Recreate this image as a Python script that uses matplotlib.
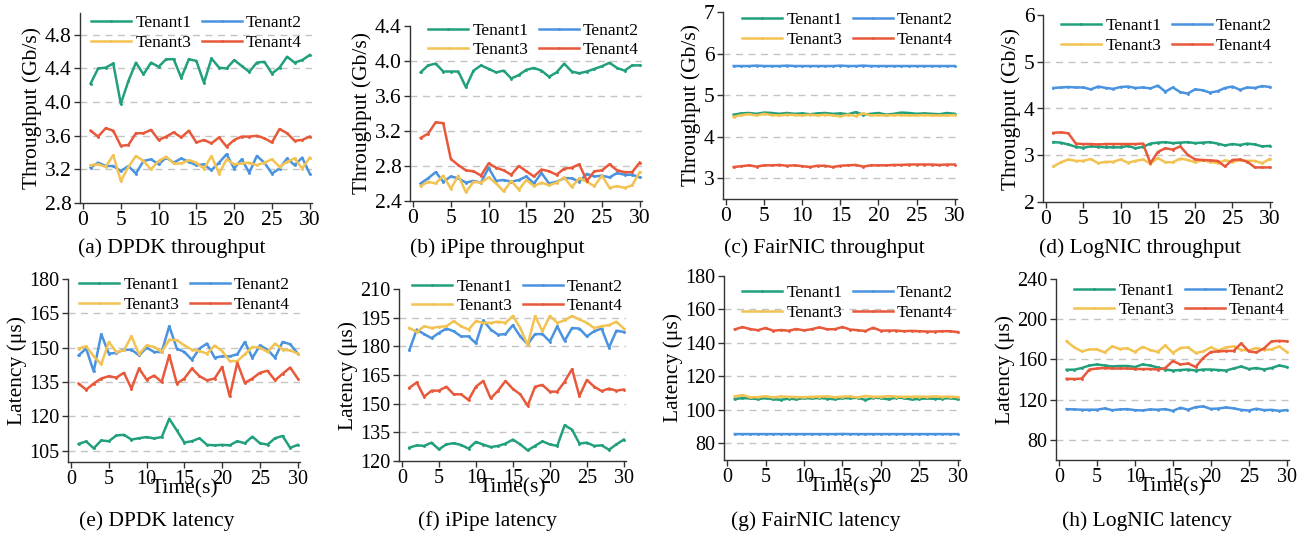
import matplotlib
matplotlib.use('Agg')
import matplotlib.pyplot as plt

plt.rcParams['font.family'] = ['Liberation Serif', 'DejaVu Serif']

time = list(range(1, 31))
tenants = ['Tenant1', 'Tenant2', 'Tenant3', 'Tenant4']
colors = ['#22a07e', '#4a93e0', '#f2c352', '#e8593c']

# (a) DPDK throughput
dpdk_tp_t1 = [4.22, 4.40, 4.41, 4.46, 3.98, 4.25, 4.47, 4.33, 4.47, 4.42, 4.51, 4.51, 4.29, 4.51, 4.49,
              4.23, 4.52, 4.41, 4.40, 4.50, 4.43, 4.36, 4.47, 4.48, 4.34, 4.41, 4.54, 4.47, 4.50, 4.56]
dpdk_tp_t2 = [3.22, 3.28, 3.24, 3.24, 3.18, 3.24, 3.15, 3.30, 3.32, 3.26, 3.34, 3.28, 3.33, 3.29, 3.25,
              3.26, 3.19, 3.28, 3.38, 3.21, 3.32, 3.16, 3.36, 3.28, 3.15, 3.21, 3.33, 3.25, 3.34, 3.15]
dpdk_tp_t3 = [3.25, 3.26, 3.23, 3.37, 3.06, 3.23, 3.36, 3.30, 3.20, 3.30, 3.35, 3.27, 3.27, 3.31, 3.28,
              3.21, 3.36, 3.15, 3.32, 3.26, 3.27, 3.28, 3.25, 3.28, 3.32, 3.23, 3.29, 3.33, 3.21, 3.34]
dpdk_tp_t4 = [3.66, 3.59, 3.69, 3.66, 3.48, 3.49, 3.63, 3.63, 3.67, 3.55, 3.59, 3.64, 3.58, 3.66, 3.52,
              3.55, 3.51, 3.58, 3.47, 3.55, 3.59, 3.59, 3.60, 3.57, 3.52, 3.68, 3.63, 3.54, 3.55, 3.59]

# (b) iPipe throughput
ipipe_tp_t1 = [3.87, 3.95, 3.97, 3.88, 3.88, 3.88, 3.70, 3.89, 3.95, 3.91, 3.87, 3.89, 3.80, 3.84, 3.90,
               3.92, 3.89, 3.82, 3.87, 3.97, 3.88, 3.86, 3.88, 3.91, 3.94, 3.98, 3.92, 3.89, 3.95, 3.95]
ipipe_tp_t2 = [2.60, 2.66, 2.73, 2.62, 2.68, 2.66, 2.61, 2.63, 2.61, 2.78, 2.63, 2.64, 2.62, 2.64, 2.68,
               2.60, 2.72, 2.60, 2.62, 2.66, 2.66, 2.62, 2.71, 2.68, 2.69, 2.67, 2.72, 2.70, 2.70, 2.67]
ipipe_tp_t3 = [2.57, 2.62, 2.60, 2.69, 2.54, 2.69, 2.50, 2.62, 2.61, 2.67, 2.60, 2.51, 2.63, 2.53, 2.64,
               2.57, 2.61, 2.58, 2.61, 2.67, 2.56, 2.66, 2.62, 2.57, 2.69, 2.55, 2.57, 2.55, 2.58, 2.73]
ipipe_tp_t4 = [3.12, 3.17, 3.30, 3.29, 2.88, 2.81, 2.75, 2.74, 2.69, 2.83, 2.78, 2.75, 2.70, 2.80, 2.74,
               2.68, 2.76, 2.74, 2.70, 2.77, 2.78, 2.82, 2.63, 2.74, 2.75, 2.82, 2.75, 2.73, 2.73, 2.84]

# (c) FairNIC throughput
fair_tp_t1 = [4.53, 4.56, 4.57, 4.55, 4.58, 4.57, 4.55, 4.57, 4.55, 4.56, 4.54, 4.56, 4.57, 4.55, 4.56,
              4.54, 4.59, 4.53, 4.55, 4.57, 4.53, 4.55, 4.58, 4.57, 4.55, 4.56, 4.55, 4.54, 4.57, 4.55]
fair_tp_t2 = [5.70, 5.70, 5.70, 5.71, 5.70, 5.70, 5.70, 5.71, 5.70, 5.70, 5.70, 5.70, 5.70, 5.70, 5.71,
              5.70, 5.70, 5.71, 5.70, 5.70, 5.70, 5.70, 5.70, 5.70, 5.70, 5.70, 5.70, 5.70, 5.70, 5.70]
fair_tp_t3 = [4.48, 4.52, 4.54, 4.51, 4.55, 4.52, 4.51, 4.53, 4.52, 4.51, 4.53, 4.51, 4.53, 4.51, 4.49,
              4.53, 4.50, 4.56, 4.51, 4.52, 4.51, 4.52, 4.52, 4.51, 4.51, 4.52, 4.51, 4.51, 4.51, 4.52]
fair_tp_t4 = [3.27, 3.29, 3.31, 3.28, 3.31, 3.31, 3.32, 3.30, 3.31, 3.29, 3.27, 3.30, 3.30, 3.27, 3.30,
              3.31, 3.32, 3.28, 3.31, 3.31, 3.31, 3.32, 3.32, 3.33, 3.33, 3.33, 3.33, 3.32, 3.33, 3.33]

# (d) LogNIC throughput
log_tp_t1 = [3.28, 3.27, 3.23, 3.18, 3.16, 3.19, 3.18, 3.17, 3.17, 3.17, 3.20, 3.15, 3.18, 3.25, 3.27,
             3.28, 3.26, 3.27, 3.28, 3.26, 3.27, 3.28, 3.25, 3.21, 3.24, 3.22, 3.25, 3.23, 3.19, 3.20]
log_tp_t2 = [4.44, 4.45, 4.46, 4.45, 4.45, 4.41, 4.47, 4.44, 4.42, 4.46, 4.47, 4.44, 4.45, 4.43, 4.49,
             4.36, 4.45, 4.35, 4.32, 4.41, 4.39, 4.34, 4.37, 4.44, 4.47, 4.40, 4.45, 4.44, 4.48, 4.46]
log_tp_t3 = [2.76, 2.85, 2.91, 2.88, 2.88, 2.92, 2.83, 2.86, 2.86, 2.91, 2.84, 2.88, 2.91, 2.82, 2.94,
             2.85, 2.85, 2.93, 2.90, 2.85, 2.89, 2.86, 2.83, 2.89, 2.86, 2.89, 2.88, 2.88, 2.83, 2.92]
log_tp_t4 = [3.48, 3.49, 3.47, 3.25, 3.24, 3.24, 3.23, 3.24, 3.24, 3.24, 3.24, 3.24, 3.25, 2.83, 3.07,
             3.15, 3.12, 3.19, 3.01, 2.91, 2.90, 2.89, 2.88, 2.76, 2.90, 2.91, 2.86, 2.74, 2.74, 2.74]

# (e) DPDK latency
dpdk_lat_t1 = [107.9, 109.0, 106.0, 109.4, 109.1, 111.6, 111.9, 109.8, 110.4, 110.9, 110.3, 110.9, 118.9, 113.8, 108.5,
               109.1, 110.4, 107.5, 107.3, 107.5, 107.3, 109.1, 108.2, 111.1, 108.2, 107.6, 110.4, 111.4, 106.2, 107.5]
dpdk_lat_t2 = [146.6, 149.6, 139.6, 155.9, 147.4, 147.7, 149.1, 149.1, 146.6, 150.0, 148.1, 148.1, 159.4, 149.6, 148.1,
               144.7, 149.6, 151.8, 145.6, 146.2, 146.2, 147.1, 152.5, 145.5, 151.0, 149.1, 145.6, 152.5, 151.5, 147.4]
dpdk_lat_t3 = [149.6, 150.6, 146.2, 142.7, 152.5, 148.1, 148.8, 155.0, 147.1, 151.0, 150.3, 148.1, 153.5, 153.2, 151.0,
               149.1, 148.5, 147.4, 150.9, 148.5, 144.1, 144.1, 147.1, 150.3, 150.0, 148.1, 151.8, 149.1, 148.8, 147.4]
dpdk_lat_t4 = [134.3, 131.6, 134.3, 136.5, 137.5, 136.9, 139.0, 132.1, 140.9, 136.0, 137.8, 135.0, 146.7, 134.3, 136.5,
               140.9, 137.5, 135.7, 136.5, 141.6, 128.7, 143.4, 134.6, 136.5, 139.0, 139.9, 135.7, 138.6, 141.3, 136.5]

# (f) iPipe latency
ipipe_lat_t1 = [127.0, 128.2, 127.9, 129.6, 126.1, 128.7, 129.3, 128.4, 126.5, 130.0, 128.6, 127.3, 127.9, 129.1, 131.2,
                128.7, 125.6, 127.9, 130.3, 128.7, 127.9, 138.7, 136.4, 129.1, 129.6, 127.9, 128.2, 125.9, 128.7, 131.2]
ipipe_lat_t2 = [178.0, 188.8, 186.4, 184.3, 187.0, 189.3, 187.9, 185.2, 185.2, 181.6, 193.6, 188.8, 186.1, 186.4, 191.1,
                185.2, 181.1, 186.4, 186.4, 182.5, 190.5, 182.9, 189.6, 189.3, 185.2, 187.9, 189.3, 179.3, 188.2, 187.5]
ipipe_lat_t3 = [189.6, 187.5, 190.5, 189.6, 190.2, 190.5, 193.2, 190.5, 188.8, 193.2, 192.3, 192.3, 192.9, 192.3, 195.9,
                189.6, 180.7, 195.9, 187.9, 195.9, 192.3, 193.6, 195.9, 194.1, 192.3, 189.6, 190.5, 191.1, 192.9, 189.3]
ipipe_lat_t4 = [158.3, 161.1, 153.6, 156.8, 156.8, 158.9, 154.9, 154.9, 151.9, 158.9, 161.9, 152.8, 156.8, 161.9, 157.7,
                154.9, 148.9, 158.9, 159.8, 156.3, 156.3, 161.5, 168.1, 154.0, 162.4, 158.9, 156.6, 157.9, 156.8, 157.4]

# (g) FairNIC latency
fair_lat_t1 = [106.5, 107.0, 106.8, 106.4, 107.0, 106.3, 106.0, 106.7, 106.3, 107.0, 106.8, 107.1, 106.7, 106.3, 107.0,
               106.9, 107.2, 105.9, 107.3, 107.0, 106.3, 107.3, 107.0, 106.2, 106.5, 106.8, 106.6, 106.7, 107.0, 106.3]
fair_lat_t2 = [85.5, 85.5, 85.5, 85.5, 85.5, 85.5, 85.5, 85.5, 85.5, 85.5, 85.5, 85.5, 85.5, 85.5, 85.6,
               85.5, 85.5, 85.5, 85.5, 85.5, 85.5, 85.5, 85.5, 85.5, 85.5, 85.5, 85.5, 85.5, 85.5, 85.5]
fair_lat_t3 = [108.0, 108.8, 107.5, 107.6, 108.1, 107.4, 108.0, 107.8, 107.6, 107.5, 107.8, 107.9, 108.0, 107.5, 107.9,
               108.0, 107.4, 108.3, 107.8, 107.8, 108.2, 107.9, 107.8, 107.8, 107.9, 107.8, 108.0, 107.8, 107.9, 107.6]
fair_lat_t4 = [148.1, 149.5, 148.3, 147.6, 148.9, 147.3, 147.7, 147.3, 148.3, 147.5, 148.2, 149.3, 148.2, 148.2, 149.5,
               148.0, 147.6, 147.1, 149.1, 147.3, 147.4, 147.4, 147.0, 147.2, 147.0, 146.8, 146.8, 147.0, 147.0, 146.5]

# (h) LogNIC latency
log_lat_t1 = [149.8, 149.8, 151.5, 154.0, 155.0, 154.0, 153.0, 153.5, 153.5, 152.5, 155.0, 154.0, 152.0, 150.0, 149.0,
              149.5, 150.0, 149.0, 150.0, 150.0, 149.5, 149.0, 151.0, 153.0, 150.5, 151.5, 150.0, 151.5, 154.0, 152.5]
log_lat_t2 = [110.6, 110.3, 110.0, 110.0, 110.0, 111.3, 109.6, 110.3, 110.6, 109.6, 109.3, 110.3, 110.0, 110.6, 108.9,
              112.0, 110.0, 112.6, 113.3, 110.8, 111.2, 112.3, 111.3, 109.9, 109.2, 111.0, 109.6, 109.9, 108.9, 109.6]
log_lat_t3 = [178.0, 172.0, 168.0, 170.0, 170.0, 167.0, 173.0, 170.5, 171.0, 167.5, 172.5, 169.5, 167.5, 174.0, 166.5,
              171.5, 172.0, 166.5, 168.0, 172.0, 169.0, 172.0, 173.0, 169.5, 169.0, 171.5, 169.5, 170.0, 173.0, 167.5]
log_lat_t4 = [140.8, 140.5, 141.0, 150.0, 151.0, 151.5, 151.0, 151.0, 151.0, 150.5, 150.5, 150.5, 150.0, 151.5, 158.5,
              155.0, 156.0, 152.5, 161.5, 167.5, 168.0, 168.5, 168.5, 176.0, 168.0, 167.0, 171.0, 178.0, 178.5, 178.0]

captions = ['(a) DPDK throughput', '(b) iPipe throughput', '(c) FairNIC throughput', '(d) LogNIC throughput',
            '(e) DPDK latency', '(f) iPipe latency', '(g) FairNIC latency', '(h) LogNIC latency']
yticks_list = [[2.8, 3.2, 3.6, 4.0, 4.4, 4.8], [2.4, 2.8, 3.2, 3.6, 4.0, 4.4], [3, 4, 5, 6, 7], [2, 3, 4, 5, 6],
               [105, 120, 135, 150, 165, 180], [120, 135, 150, 165, 180, 195, 210], [80, 100, 120, 140, 160, 180],
               [80, 120, 160, 200, 240]]
xticks = [0, 5, 10, 15, 20, 25, 30]

series = [
    [dpdk_tp_t1, dpdk_tp_t2, dpdk_tp_t3, dpdk_tp_t4],
    [ipipe_tp_t1, ipipe_tp_t2, ipipe_tp_t3, ipipe_tp_t4],
    [fair_tp_t1, fair_tp_t2, fair_tp_t3, fair_tp_t4],
    [log_tp_t1, log_tp_t2, log_tp_t3, log_tp_t4],
    [dpdk_lat_t1, dpdk_lat_t2, dpdk_lat_t3, dpdk_lat_t4],
    [ipipe_lat_t1, ipipe_lat_t2, ipipe_lat_t3, ipipe_lat_t4],
    [fair_lat_t1, fair_lat_t2, fair_lat_t3, fair_lat_t4],
    [log_lat_t1, log_lat_t2, log_lat_t3, log_lat_t4],
]

# layout (pixels): left, right, top, bottom
W, H = 1314, 540
boxes = [(80, 312, 13, 203), (410, 642, 26, 201), (723, 957, 12, 199), (1043, 1272, 15, 202),
         (68, 300, 279, 462), (399, 626, 289, 461), (724, 960, 276, 460), (1056, 1289, 279, 460)]
ylims = [(2.8, 5.06), (2.4, 4.4), (2.5, 7), (2, 6), (100, 180), (120, 210), (70, 180), (60, 240)]
leg_anchor = [(0.957, 0.99), (0.987, 1.02), (0.983, 1.0), (1.0, 0.985),
              (0.957, 1.01), (0.987, 1.06), (0.97, 0.95), (0.983, 0.98)]
cap_x = [172, 497, 824, 1140, 157, 487, 816, 1147]
cap_y = [248, 248, 248, 248, 521, 521, 521, 521]
fmt = ['%.1f', '%.1f', '%d', '%d', '%d', '%d', '%d', '%d']

fig = plt.figure(figsize=(13.14, 5.4), dpi=100)
for i in range(8):
    l, r, t, b = boxes[i]
    ax = fig.add_axes([l / W, 1 - b / H, (r - l) / W, (b - t) / H])
    lo, hi = ylims[i]
    for yt in yticks_list[i]:
        if lo + 1e-9 < yt < hi - 1e-9:
            ax.axhline(yt, color='#c4c4c4', lw=1.0, ls=(0, (5, 4)), zorder=0)
    lines = []
    for k in range(4):
        ln, = ax.plot(time, series[i][k], color=colors[k], lw=1.8, marker='o', ms=1.1,
                      label=tenants[k], zorder=3)
        lines.append(ln)
    ax.set_xlim(-0.4, 30.3)
    ax.set_ylim(lo, hi)
    ax.set_xticks(xticks)
    ax.set_yticks(yticks_list[i])
    ax.set_yticklabels([fmt[i] % v for v in yticks_list[i]])
    for s in ['top', 'right']:
        ax.spines[s].set_visible(False)
    for s in ['left', 'bottom']:
        ax.spines[s].set_color('#333333')
        ax.spines[s].set_linewidth(1.0)
    ax.tick_params(labelsize=15.5 if i < 4 else 14.5, length=4, width=1.0, pad=2, color='#333333')
    if i < 4:
        ax.set_ylabel('Throughput (Gb/s)', fontsize=15.5, labelpad=2)
    else:
        ax.set_ylabel('Latency (μs)', fontsize=15.5, labelpad=2)
        ax.set_xlabel('Time(s)', fontsize=15.5, labelpad=-7)
    order = [0, 2, 1, 3]
    ax.legend([lines[j] for j in order], [tenants[j] for j in order], ncol=2, frameon=False,
              loc='upper right', bbox_to_anchor=leg_anchor[i], borderaxespad=0, borderpad=0,
              handlelength=2.3, handletextpad=0.25, columnspacing=0.6, labelspacing=0.2,
              fontsize=12.5)
    fig.text(cap_x[i] / W, 1 - cap_y[i] / H, captions[i], ha='center', va='center', fontsize=15.5)

fig.savefig('out.png', dpi=100)
